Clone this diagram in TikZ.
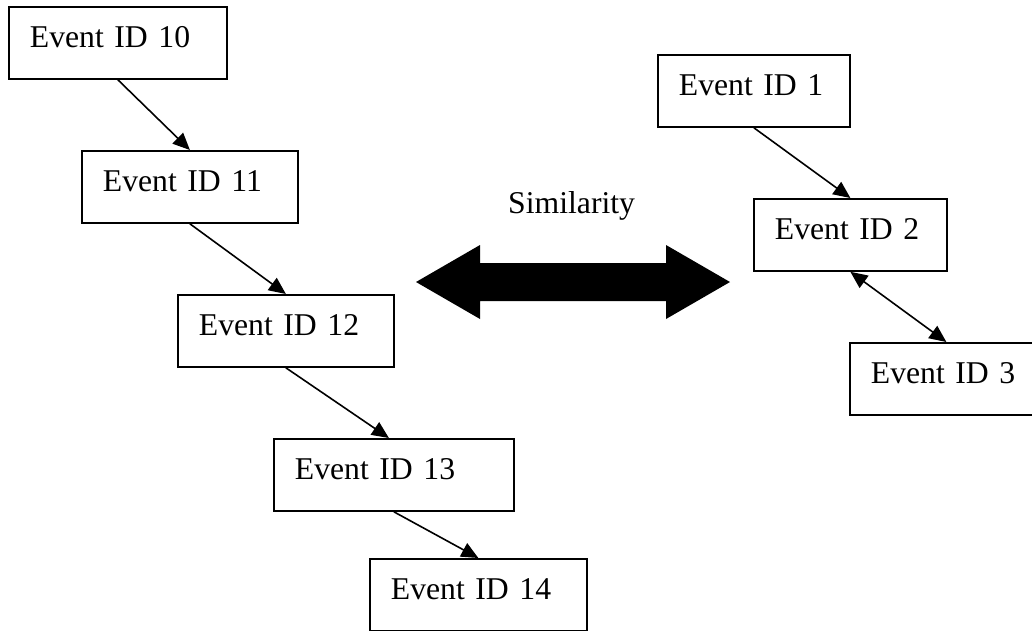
\documentclass[tikz,border=0pt]{standalone}
\usepackage{fontspec}
\setmainfont{Liberation Serif}
\usetikzlibrary{arrows.meta}
\tikzset{
  evbox/.style={draw, line width=1.8pt, rectangle, anchor=north west,
    inner xsep=21pt, inner ysep=0pt, text height=40.5pt, text depth=31.5pt,
    align=left, font=\fontsize{31.7}{38}\selectfont},
  tip/.style={Triangle[length=17pt,width=15pt]},
  conn/.style={line width=1.6pt, -{Triangle[length=17pt,width=15pt]}},
  bconn/.style={line width=1.6pt, {Triangle[length=17pt,width=15pt]}-{Triangle[length=17pt,width=15pt]}},
  lbl/.style={anchor=base west, inner sep=0pt, font=\fontsize{31.7}{38}\selectfont}
}
\begin{document}
\begin{tikzpicture}[x=1pt,y=-1pt]
\useasboundingbox (0,0) rectangle (1032,630);
% left chain
\node[evbox, text width=176pt] (b10) at (8,6) {Event ID 10};
\node[evbox, text width=174pt] (b11) at (81,150) {Event ID 11};
\node[evbox, text width=174pt] (b12) at (177,294) {Event ID 12};
\node[evbox, text width=198pt] (b13) at (273,438) {Event ID 13};
\node[evbox, text width=175pt] (b14) at (369,558) {Event ID 14};
% right chain
\node[evbox, text width=150pt] (b1) at (657,54) {Event ID 1};
\node[evbox, text width=151pt] (b2) at (753,198) {Event ID 2};
\node[evbox, text width=151pt] (b3) at (849,342) {Event ID 3};
% connectors
\draw[conn] (b10.south) -- (b11.north);
\draw[conn] (b11.south) -- (b12.north);
\draw[conn] (b12.south) -- ([xshift=-5pt]b13.north);
\draw[conn] (b13.south) -- (b14.north);
\draw[conn] (b1.south) -- (b2.north);
\draw[bconn] (b2.south) -- (b3.north);
% similarity
\node[lbl] (sim) at (508,213) {Similarity};
\fill[black] (416,282) -- (480,245) -- (480,263) -- (666,263) -- (666,245)
  -- (730,282) -- (666,319) -- (666,301) -- (480,301) -- (480,319) -- cycle;
\end{tikzpicture}
\end{document}
